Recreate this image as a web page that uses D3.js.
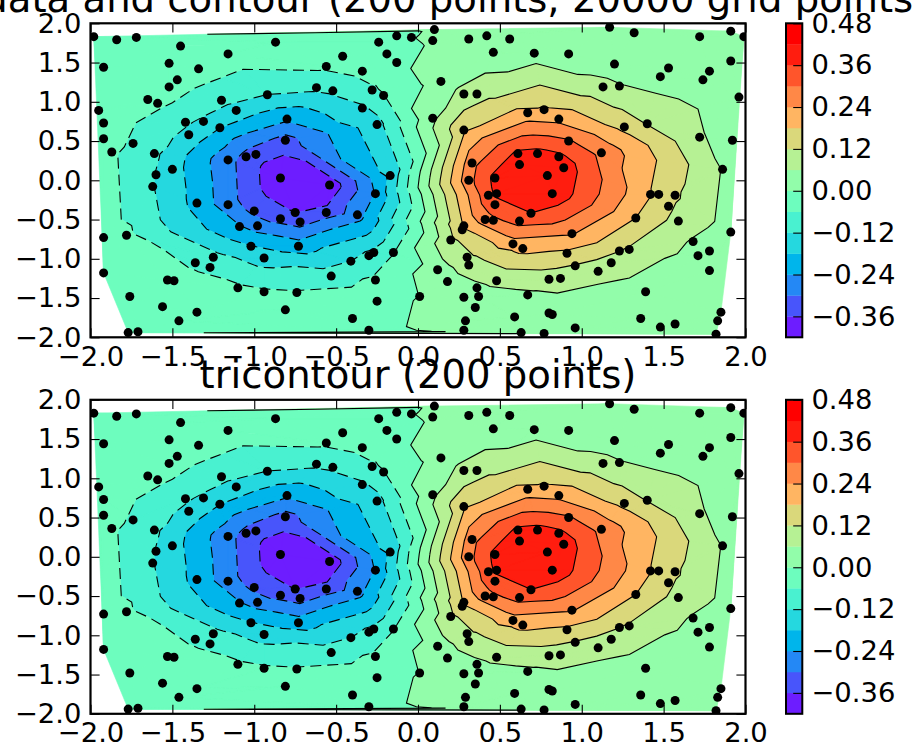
<!DOCTYPE html>
<html><head><meta charset="utf-8">
<script src="https://cdn.jsdelivr.net/npm/d3@7"></script>
<style>body{margin:0;background:#fff}svg{display:block}</style>
</head><body>
<svg id="c" width="913" height="752"></svg>
<script>
// ---- data ----
const xs = [
-1.98,-1.84,-1.72,-1.45,-1.16,-1.92,-1.52,-1.34,-1.47,-1.52,-1.65,-1.59,-1.20,-1.11,-1.95,-1.92,-1.42,-1.31,-1.21,-1.92,-1.40,-1.74,-1.87,-1.61,-1.16,-1.05,-1.60,-1.50,
-0.87,-0.24,-0.13,-0.04,-0.46,-0.19,-0.13,-0.56,-0.34,-0.62,-0.52,-0.28,-0.21,-0.92,-0.34,-0.80,-0.25,-0.81,-0.99,-0.84,-0.17,
0.10,0.09,0.31,0.42,0.56,0.46,0.71,0.92,0.14,0.28,0.36,0.09,0.28,0.67,0.77,0.86,0.92,0.61,0.73,0.86,0.62,0.89,0.33,0.79,0.47,0.31,
1.17,1.32,1.72,1.91,1.99,1.20,1.53,1.48,1.78,1.74,1.91,1.13,1.23,1.96,1.26,1.40,1.72,1.92,1.12,1.86,
-1.62,-1.35,-1.16,-1.00,-1.09,-0.98,-1.02,-1.92,-1.78,-1.25,-1.36,-1.27,-1.92,-1.53,-1.49,-1.10,-1.76,-1.56,-1.35,-1.46,-1.77,-1.71,
-0.54,-0.26,-0.75,-0.56,-0.37,-0.84,-0.72,-0.73,-0.94,-0.41,-0.30,-0.27,-0.15,-0.53,-0.26,-0.94,-0.74,-0.25,-0.81,-0.40,-0.30,0.01,
0.43,0.48,0.47,0.82,0.69,0.41,0.46,0.62,0.28,0.27,0.20,0.94,0.58,0.64,0.91,0.30,0.31,0.96,0.12,0.18,0.48,0.80,0.87,0.36,0.37,0.28,0.67,0.35,0.59,0.80,0.82,0.29,0.28,0.63,0.77,0.96,
1.42,1.47,1.57,1.53,1.33,1.59,1.91,1.23,1.29,1.68,1.78,1.71,1.78,1.18,1.10,1.39,1.36,1.48,1.57,1.85,1.83,1.82];
const ys = [
1.83,1.79,1.82,1.71,1.61,1.44,1.49,1.42,1.28,1.19,1.03,0.98,1.02,0.89,0.89,0.73,0.74,0.75,0.67,0.53,0.58,0.47,0.36,0.34,0.26,0.30,0.07,0.14,
1.76,1.76,1.84,1.82,1.58,1.61,1.50,1.45,1.39,1.18,1.14,1.15,1.08,1.09,0.92,0.78,0.71,0.51,0.33,0.03,0.06,
1.92,1.78,1.80,1.84,1.80,1.63,1.62,1.61,1.26,1.10,1.10,0.79,0.64,0.86,0.90,0.78,0.50,0.34,0.34,0.30,0.20,0.16,0.22,0.06,0.03,0.00,
1.95,1.88,1.83,1.90,1.83,1.48,1.43,1.32,1.39,1.28,1.52,1.19,1.20,1.06,0.68,0.72,0.55,0.51,0.35,0.14,
-0.08,-0.29,-0.31,-0.39,-0.59,-0.58,-0.84,-0.73,-0.70,-0.98,-1.05,-1.11,-1.18,-1.27,-1.28,-1.37,-1.48,-1.61,-1.68,-1.79,-1.94,-1.93,
-0.06,-0.17,-0.41,-0.41,-0.44,-0.49,-0.53,-0.84,-0.99,-1.03,-0.96,-0.92,-0.92,-1.22,-1.27,-1.42,-1.43,-1.54,-1.65,-1.76,-1.91,-1.48,
-0.19,-0.17,-0.31,-0.17,-0.42,-0.50,-0.51,-0.52,-0.58,-0.63,-0.76,-0.68,-0.81,-0.87,-0.93,-0.98,-1.08,-1.09,-1.14,-1.29,-1.28,-1.26,-1.25,-1.37,-1.48,-1.49,-1.46,-1.62,-1.74,-1.69,-1.71,-1.79,-1.91,-1.94,-1.95,-1.88,
-0.18,-0.18,-0.19,-0.33,-0.48,-0.52,-0.66,-0.90,-0.88,-0.78,-0.90,-0.96,-1.15,-1.05,-1.16,-1.42,-1.76,-1.87,-1.83,-1.68,-1.79,-1.96];
const zs = [
-0.001,-0.003,-0.003,-0.010,-0.023,-0.006,-0.016,-0.029,-0.033,-0.036,-0.038,-0.048,-0.100,-0.147,-0.020,-0.028,-0.109,-0.134,-0.179,-0.036,-0.140,-0.067,-0.050,-0.107,-0.280,-0.319,-0.123,-0.155,
-0.018,-0.010,-0.004,-0.001,-0.031,-0.014,-0.013,-0.050,-0.044,-0.105,-0.108,-0.069,-0.063,-0.121,-0.130,-0.230,-0.142,-0.324,-0.333,-0.414,-0.165,
0.002,0.004,0.011,0.012,0.016,0.026,0.031,0.030,0.028,0.077,0.094,0.048,0.172,0.204,0.189,0.223,0.307,0.374,0.381,0.375,0.406,0.393,0.282,0.421,0.376,0.281,
0.007,0.007,0.003,0.001,0.001,0.032,0.019,0.029,0.011,0.016,0.005,0.077,0.064,0.014,0.162,0.117,0.066,0.037,0.283,0.057,
-0.117,-0.200,-0.274,-0.316,-0.235,-0.268,-0.178,-0.028,-0.046,-0.100,-0.071,-0.074,-0.012,-0.029,-0.031,-0.050,-0.009,-0.010,-0.013,-0.007,-0.002,-0.002,
-0.402,-0.236,-0.361,-0.346,-0.266,-0.326,-0.324,-0.211,-0.146,-0.120,-0.109,-0.108,-0.063,-0.090,-0.048,-0.052,-0.055,-0.022,-0.028,-0.015,-0.007,0.001,
0.345,0.370,0.342,0.407,0.359,0.270,0.287,0.322,0.185,0.169,0.108,0.245,0.215,0.199,0.167,0.105,0.088,0.116,0.032,0.033,0.074,0.086,0.086,0.048,0.036,0.028,0.051,0.022,0.020,0.024,0.022,0.011,0.007,0.010,0.009,0.011,
0.183,0.164,0.129,0.132,0.180,0.097,0.032,0.121,0.113,0.054,0.033,0.037,0.020,0.097,0.085,0.027,0.010,0.005,0.005,0.004,0.003,0.001];
const levels = [-0.42,-0.36,-0.30,-0.24,-0.18,-0.12,-0.06,0.00,0.06,0.12,0.18,0.24,0.30,0.36,0.42,0.48];
const axisTicks = [-2.0,-1.5,-1.0,-0.5,0.0,0.5,1.0,1.5,2.0];
const cbTicks = [-0.36,-0.24,-0.12,0.00,0.12,0.24,0.36,0.48];
const titles = ["griddata and contour (200 points, 20000 grid points)", "tricontour (200 points)"];

// ---- layout ----
const FS = 27.4, TFS = 38.6, TICK = 9.1, PAD = 9.1;
const xL = 90.5, xR = 745.5, cbL = 786, cbR = 802.3;
const panels = [{top: 23.3, bottom: 337.3}, {top: 399.8, bottom: 713.8}];
const FONT = "DejaVu Sans";

function rainbow(t){
  t = Math.max(0, Math.min(1, t));
  const r = Math.min(1, Math.abs(2*t - 0.5)), g = Math.sin(Math.PI*t), b = Math.cos(Math.PI*t/2);
  return d3.rgb(r*255, g*255, Math.max(0,b)*255).formatHex();
}
const zmax = d3.max(zs, Math.abs);
const bandColor = i => rainbow(((levels[i]+levels[i+1])/2 + zmax)/(2*zmax));

const del = d3.Delaunay.from(xs.map((x,i)=>[x, ys[i]]));
const T = del.triangles;

function clipPoly(poly, L, above){
  const out = [], n = poly.length;
  for (let i=0;i<n;i++){
    const a = poly[i], b = poly[(i+1)%n];
    const ia = above ? a[2] >= L : a[2] <= L;
    const ib = above ? b[2] >= L : b[2] <= L;
    if (ia) out.push(a);
    if (ia !== ib){
      const t = (L - a[2])/(b[2]-a[2]);
      out.push([a[0]+t*(b[0]-a[0]), a[1]+t*(b[1]-a[1]), L]);
    }
  }
  return out;
}
function bandPolys(lo, hi){
  const res = [];
  for (let t=0;t<T.length;t+=3){
    let poly = [T[t],T[t+1],T[t+2]].map(k=>[xs[k], ys[k], zs[k]]);
    poly = clipPoly(poly, lo, true); if (poly.length<3) continue;
    poly = clipPoly(poly, hi, false); if (poly.length<3) continue;
    res.push(poly);
  }
  return res;
}
function contourLines(L){
  const segs = [];
  for (let t=0;t<T.length;t+=3){
    const v = [T[t],T[t+1],T[t+2]], ends = [];
    for (let k=0;k<3;k++){
      const a = v[k], b = v[(k+1)%3];
      if ((zs[a]>=L) !== (zs[b]>=L)){
        const tt = (L-zs[a])/(zs[b]-zs[a]);
        ends.push({key: Math.min(a,b)+"_"+Math.max(a,b), p:[xs[a]+tt*(xs[b]-xs[a]), ys[a]+tt*(ys[b]-ys[a])]});
      }
    }
    if (ends.length===2) segs.push(ends);
  }
  const map = new Map();
  segs.forEach((s,i)=>s.forEach(e=>{ if(!map.has(e.key)) map.set(e.key,[]); map.get(e.key).push(i); }));
  const used = new Array(segs.length).fill(false), lines = [];
  const extend = (arr, atEnd) => {
    while (true){
      const last = atEnd ? arr[arr.length-1] : arr[0];
      const cand = (map.get(last.key)||[]).find(j=>!used[j]);
      if (cand===undefined) break;
      used[cand] = true;
      const s = segs[cand], nxt = s[0].key===last.key ? s[1] : s[0];
      if (atEnd) arr.push(nxt); else arr.unshift(nxt);
    }
  };
  for (let i=0;i<segs.length;i++){
    if (used[i]) continue; used[i] = true;
    const line = [segs[i][0], segs[i][1]];
    extend(line, true); extend(line, false);
    lines.push(line.map(e=>e.p));
  }
  return lines;
}

const svg = d3.select("#c");
const bands = d3.range(levels.length-1).map(i=>({i, polys: bandPolys(levels[i], levels[i+1])}));
const lineSets = levels.map(L=>({L, lines: contourLines(L)}));

panels.forEach((p, pi) => {
  const x = d3.scaleLinear([-2,2],[xL,xR]);
  const y = d3.scaleLinear([-2,2],[p.bottom,p.top]);
  const g = svg.append("g");
  const cid = "clip"+pi;
  svg.append("defs").append("clipPath").attr("id",cid).append("rect")
     .attr("x",xL).attr("y",p.top).attr("width",xR-xL).attr("height",p.bottom-p.top);

  // filled bands
  bands.forEach(b=>{
    const path = d3.path();
    b.polys.forEach(poly=>{
      poly.forEach((q,k)=>{ k? path.lineTo(x(q[0]),y(q[1])) : path.moveTo(x(q[0]),y(q[1])); });
      path.closePath();
    });
    g.append("path").attr("d",path.toString()).attr("fill",bandColor(b.i))
     .attr("stroke",bandColor(b.i)).attr("stroke-width",0.6).attr("stroke-linejoin","round");
  });
  // contour lines
  const line = d3.line().x(d=>x(d[0])).y(d=>y(d[1]));
  lineSets.forEach(s=>{
    s.lines.forEach(l=>{
      g.append("path").attr("d",line(l)).attr("fill","none").attr("stroke","#000")
       .attr("stroke-width",1.1).attr("stroke-dasharray", s.L<0 ? "11,6" : null);
    });
  });
  // points
  g.append("g").attr("clip-path",`url(#${cid})`).selectAll("circle")
   .data(xs.map((v,i)=>[v,ys[i]])).join("circle")
   .attr("cx",d=>x(d[0])).attr("cy",d=>y(d[1])).attr("r",4.5).attr("fill","#000");

  // axes
  const fmt = d3.format(".1f");
  const styleAxis = sel => { sel.attr("font-size",FS).attr("font-family",FONT);
     sel.selectAll(".tick line").attr("stroke-width",1.1); sel.select(".domain").remove();
     sel.selectAll("text").attr("fill","#000"); };
  svg.append("g").attr("transform",`translate(0,${p.bottom})`)
     .call(d3.axisBottom(x).tickValues(axisTicks).tickFormat(fmt).tickSize(-TICK).tickPadding(PAD)).call(styleAxis);
  svg.append("g").attr("transform",`translate(0,${p.top})`)
     .call(d3.axisTop(x).tickValues(axisTicks).tickFormat("").tickSize(-TICK)).call(styleAxis);
  svg.append("g").attr("transform",`translate(${xL},0)`)
     .call(d3.axisLeft(y).tickValues(axisTicks).tickFormat(fmt).tickSize(-TICK).tickPadding(PAD)).call(styleAxis);
  svg.append("g").attr("transform",`translate(${xR},0)`)
     .call(d3.axisRight(y).tickValues(axisTicks).tickFormat("").tickSize(-TICK)).call(styleAxis);
  svg.append("rect").attr("x",xL).attr("y",p.top).attr("width",xR-xL).attr("height",p.bottom-p.top)
     .attr("fill","none").attr("stroke","#000").attr("stroke-width",2.2);

  // title
  svg.append("text").attr("x",(xL+xR)/2).attr("y",p.top-11.4).attr("text-anchor","middle")
     .attr("font-family",FONT).attr("font-size",TFS).attr("fill","#000").text(titles[pi]);

  // colorbar
  const cy = d3.scaleLinear([levels[0], levels[levels.length-1]],[p.bottom,p.top]);
  svg.append("g").selectAll("rect").data(d3.range(levels.length-1)).join("rect")
     .attr("x",cbL).attr("width",cbR-cbL).attr("y",i=>cy(levels[i+1])).attr("height",i=>cy(levels[i])-cy(levels[i+1])+0.3)
     .attr("fill",i=>bandColor(i));
  svg.append("g").attr("transform",`translate(${cbR},0)`)
     .call(d3.axisRight(cy).tickValues(cbTicks).tickFormat(d3.format(".2f")).tickSize(-TICK).tickPadding(PAD)).call(styleAxis);
  svg.append("rect").attr("x",cbL).attr("y",p.top).attr("width",cbR-cbL).attr("height",p.bottom-p.top)
     .attr("fill","none").attr("stroke","#000").attr("stroke-width",2);
});
</script>
</body></html>
